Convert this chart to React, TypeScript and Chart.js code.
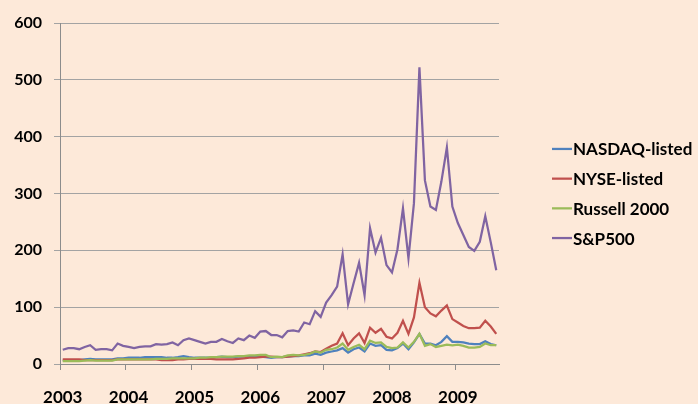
import { useEffect, useRef } from 'react';
import { Chart, registerables } from 'chart.js';

Chart.register(...registerables);

const years = ['2003', '2004', '2005', '2006', '2007', '2008', '2009'];
const monthNames = ['Jan', 'Feb', 'Mar', 'Apr', 'May', 'Jun', 'Jul', 'Aug', 'Sep', 'Oct', 'Nov', 'Dec'];
// Monthly categories Jan 2003 .. Aug 2009
const categories = years.flatMap((y) => monthNames.map((m) => `${m} ${y}`)).slice(0, 80);

const seriesNames = ['NASDAQ-listed', 'NYSE-listed', 'Russell 2000', 'S&P500'];

const nasdaq = [
  6, 7, 7, 7, 8, 9, 8, 8, 8, 8, 10, 10,
  11, 11, 11, 12, 12, 12, 12, 11, 11, 12, 14, 12,
  11, 11, 11, 11, 12, 13, 12, 12, 13, 13, 14, 13,
  13, 12, 11, 12, 12, 13, 14, 14, 15, 15, 18, 16,
  20, 22, 24, 28, 20, 26, 29, 22, 36, 32, 33, 25,
  24, 28, 36, 26, 38, 53, 36, 36, 33, 39, 49, 39,
  39, 38, 36, 35, 35, 40, 35, 33,
];

const nyse = [
  8, 8, 8, 8, 7, 7, 7, 7, 7, 7, 8, 8,
  8, 8, 8, 8, 8, 8, 7, 7, 7, 8, 8, 9,
  9, 9, 9, 9, 8, 8, 8, 8, 9, 10, 11, 11,
  12, 13, 13, 12, 12, 13, 14, 15, 17, 19, 22, 21,
  27, 32, 36, 54, 33, 45, 54, 37, 64, 55, 62, 48,
  45, 55, 76, 53, 82, 143, 100, 89, 84, 94, 103, 79,
  73, 67, 63, 63, 64, 76, 66, 53,
];

const russell = [
  5, 5, 5, 5, 6, 7, 6, 6, 6, 6, 8, 8,
  8, 8, 8, 8, 8, 9, 9, 9, 10, 10, 10, 10,
  10, 11, 11, 12, 12, 13, 13, 13, 14, 14, 15, 15,
  16, 16, 12, 13, 12, 15, 16, 15, 16, 18, 22, 20,
  25, 26, 29, 36, 25, 30, 34, 26, 41, 37, 38, 30,
  28, 29, 38, 29, 39, 53, 32, 35, 30, 32, 34, 33,
  34, 32, 29, 29, 30, 36, 33, 33,
];

const sp500 = [
  25, 28, 28, 26, 30, 33, 25, 26, 26, 24, 36, 32,
  30, 28, 30, 31, 31, 35, 34, 35, 38, 33, 42, 45,
  42, 39, 36, 39, 39, 44, 40, 37, 45, 42, 50, 46,
  57, 58, 51, 51, 47, 58, 59, 57, 73, 70, 93, 83,
  108, 121, 136, 193, 105, 142, 178, 121, 239, 196, 222, 174,
  161, 202, 274, 186, 283, 522, 323, 277, 271, 321, 381, 277,
  248, 227, 206, 199, 215, 260, 214, 165,
];

const seriesValues = [nasdaq, nyse, russell, sp500];
const seriesColors = ['#4F81BD', '#C0504D', '#9BBB59', '#8064A2'];

const yTicks = [0, 100, 200, 300, 400, 500, 600];

const FONT = 'Lato, "Open Sans", "DejaVu Sans", sans-serif';

// Legend drawn beside the plot area, Excel style (short line + bold label)
const sideLegend = {
  id: 'sideLegend',
  afterDraw(chart: any) {
    const { ctx, chartArea } = chart;
    const datasets = chart.data.datasets;
    const spacing = 29.7;
    const mid = (chartArea.top + chartArea.bottom) / 2;
    const x0 = chartArea.right + 53;
    ctx.save();
    ctx.font = `bold 17px ${FONT}`;
    ctx.textBaseline = 'middle';
    ctx.textAlign = 'left';
    datasets.forEach((ds: any, i: number) => {
      const y = mid + (i - (datasets.length - 1) / 2) * spacing;
      ctx.strokeStyle = ds.borderColor;
      ctx.lineWidth = 2.25;
      ctx.beginPath();
      ctx.moveTo(x0, y);
      ctx.lineTo(x0 + 20, y);
      ctx.stroke();
      ctx.fillStyle = '#000';
      ctx.fillText(ds.label, x0 + 21, y + 1);
    });
    ctx.restore();
  },
};

export default function App() {
  const canvasRef = useRef<HTMLCanvasElement | null>(null);

  useEffect(() => {
    const canvas = canvasRef.current;
    if (!canvas) return;
    const chart = new Chart(canvas, {
      type: 'line',
      data: {
        labels: categories,
        datasets: seriesNames.map((name, i) => ({
          label: name,
          data: seriesValues[i],
          borderColor: seriesColors[i],
          backgroundColor: seriesColors[i],
          borderWidth: 2.25,
          pointRadius: 0,
          pointHoverRadius: 0,
          tension: 0,
          fill: false,
          order: seriesNames.length - i,
        })),
      },
      options: {
        responsive: false,
        animation: false,
        devicePixelRatio: 1,
        layout: { padding: { top: 23, left: 0, right: 199, bottom: 0 } },
        plugins: {
          tooltip: { enabled: false },
          legend: { display: false },
        },
        scales: {
          x: {
            type: 'category',
            offset: true,
            grid: {
              offset: true,
              drawOnChartArea: false,
              tickLength: 6,
              color: (ctx: any) => (ctx.index % 12 === 0 ? '#8C8C8C' : 'rgba(0,0,0,0)'),
            },
            border: { color: '#8C8C8C', width: 1 },
            ticks: {
              autoSkip: false,
              maxRotation: 0,
              minRotation: 0,
              padding: 17,
              color: '#000',
              font: { family: FONT, size: 17, weight: 'bold' },
              callback: (_v: any, i: number) => (i % 12 === 0 ? categories[i].slice(4) : ''),
            },
            afterFit: (s: any) => {
              s.height = 40;
            },
          },
          y: {
            min: 0,
            max: 600,
            afterBuildTicks: (s: any) => {
              s.ticks = yTicks.map((v) => ({ value: v }));
            },
            ticks: {
              padding: 12,
              color: '#000',
              font: { family: FONT, size: 16, weight: 'bold' },
            },
            grid: { color: '#A3A3A3', tickLength: 6, lineWidth: 1 },
            border: { color: '#8C8C8C', width: 1 },
            afterFit: (s: any) => {
              s.width = 60;
            },
          },
        },
      } as any,
      plugins: [sideLegend],
    });
    return () => chart.destroy();
  }, []);

  return (
    <div
      style={{
        position: 'fixed',
        left: 0,
        top: 0,
        width: 698,
        height: 404,
        background: '#FDE9D9',
        overflow: 'hidden',
      }}
    >
      <canvas ref={canvasRef} width={698} height={404} style={{ display: 'block' }} />
    </div>
  );
}
